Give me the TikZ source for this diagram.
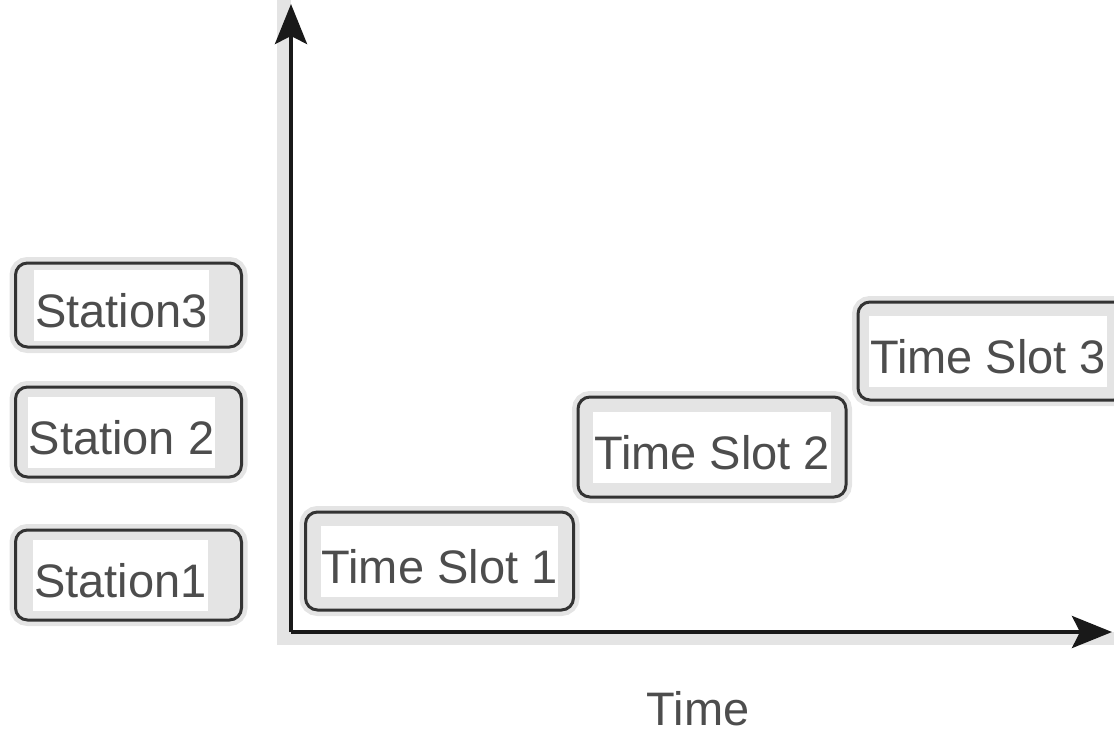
\documentclass[tikz,border=0pt]{standalone}
\usepackage{fontspec}
\setmainfont{Liberation Sans}
\usetikzlibrary{arrows.meta}
\definecolor{txt}{HTML}{4D4D4D}
\definecolor{bord}{HTML}{333333}
\definecolor{scan}{HTML}{E4E4E4}
\setlength{\fboxsep}{1pt}
\newcommand{\wtxt}[2][0pt]{\hspace*{#1}\colorbox{white}{\rule[-12pt]{0pt}{69pt}#2}}
\begin{document}
\begin{tikzpicture}[x=1pt,y=-1pt,
  box/.style={draw=bord, line width=3pt, fill=scan, rounded corners=12pt,
    preaction={draw=scan, line width=12pt},
    text=txt, font=\fontsize{47}{56}\selectfont, inner sep=0pt},
  axis/.style={line width=4pt, draw=black!90,
    -{Stealth[length=40pt,width=32pt,inset=8pt]}}]
\useasboundingbox (0,0) rectangle (1114,734);
\clip (0,0) rectangle (1114,734);
% scan strips along the axes
\fill[scan] (277,0) rectangle (291,645);
\fill[scan] (277,632) rectangle (1114,645);
% stations
\node[box, minimum width=226pt, minimum height=84pt] (s3) at (128.5,305) {\wtxt[-14pt]{Station3}};
\node[box, minimum width=226pt, minimum height=90pt] (s2) at (128.5,432) {\wtxt[-14pt]{Station 2}};
\node[box, minimum width=226pt, minimum height=90pt] (s1) at (128.5,575) {\wtxt[-16pt]{Station1}};
% axes
\coordinate (o) at (291,632);
\coordinate (ytip) at (291,4);
\coordinate (xtip) at (1112,632);
\draw[axis] (o) -- (ytip);
\draw[axis] (o) -- (xtip);
% time slots
\node[box, minimum width=268pt, minimum height=98pt] (t1) at (439.5,561) {\wtxt{Time Slot 1}};
\node[box, minimum width=268pt, minimum height=100pt] (t2) at (712,447) {\wtxt{Time Slot 2}};
\node[box, minimum width=268pt, minimum height=98pt] (t3) at (992,351) {\wtxt[-8pt]{Time Slot 3}};
% axis label
\node[text=txt, font=\fontsize{47}{56}\selectfont, inner sep=0pt] (tl) at (698,709) {Time};
\end{tikzpicture}
\end{document}
